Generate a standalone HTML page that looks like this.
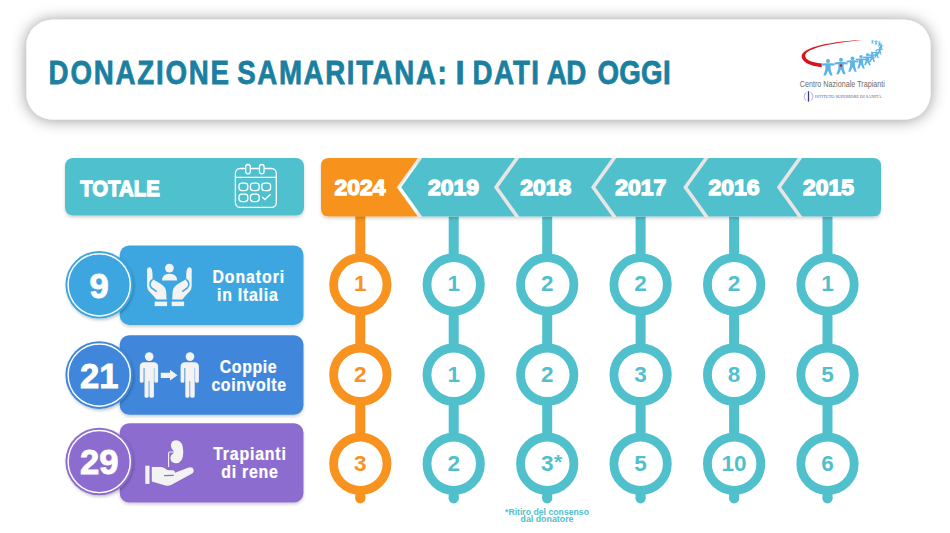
<!DOCTYPE html>
<html><head><meta charset="utf-8"><style>
html,body{margin:0;padding:0;background:#fff;}
body{width:950px;height:533px;overflow:hidden;position:relative;font-family:"Liberation Sans",sans-serif;}
svg{position:absolute;left:0;top:0;}
svg text{font-family:"Liberation Sans",sans-serif;}
</style></head><body>
<svg width="950" height="533" viewBox="0 0 950 533">
<defs>
<filter id="sh1" x="-10%" y="-40%" width="120%" height="180%"><feDropShadow dx="0" dy="0.5" stdDeviation="7.5" flood-color="#000" flood-opacity="0.42"/></filter>
<filter id="sh2" x="-20%" y="-30%" width="140%" height="160%"><feDropShadow dx="0" dy="2" stdDeviation="1.5" flood-color="#000" flood-opacity="0.18"/></filter>
<filter id="sh3" x="-30%" y="-30%" width="160%" height="160%"><feDropShadow dx="1" dy="1.5" stdDeviation="1.6" flood-color="#000" flood-opacity="0.25"/></filter>
</defs>
<rect x="26.5" y="19.7" width="904" height="99.9" rx="26" fill="#fff" filter="url(#sh1)"/>
<text transform="scale(0.84,1)" x="57.86" y="83.7" font-size="33" font-weight="700" fill="#1a7fa0" stroke="#1a7fa0" stroke-width="0.75" textLength="214.76" lengthAdjust="spacing">DONAZIONE</text>
<text transform="scale(0.84,1)" x="282.38" y="83.7" font-size="33" font-weight="700" fill="#1a7fa0" stroke="#1a7fa0" stroke-width="0.75" textLength="249.52" lengthAdjust="spacing">SAMARITANA:</text>
<text x="455.50" y="83.7" font-size="33" font-weight="700" fill="#1a7fa0" stroke="#1a7fa0" stroke-width="0.75">I</text>
<text transform="scale(0.84,1)" x="562.62" y="83.7" font-size="33" font-weight="700" fill="#1a7fa0" stroke="#1a7fa0" stroke-width="0.75" textLength="79.05" lengthAdjust="spacing">DATI</text>
<text transform="scale(0.84,1)" x="650.95" y="83.7" font-size="33" font-weight="700" fill="#1a7fa0" stroke="#1a7fa0" stroke-width="0.75" textLength="47.14" lengthAdjust="spacing">AD</text>
<text transform="scale(0.84,1)" x="711.19" y="83.7" font-size="33" font-weight="700" fill="#1a7fa0" stroke="#1a7fa0" stroke-width="0.75" textLength="87.14" lengthAdjust="spacing">OGGI</text>
<g transform="translate(795,34)"><path d="M26.8,33.2 C14,31.8 6.3,27.5 6.6,22 C7.3,13 36,7.2 73.5,5.4 C38,8.3 10.6,14 10.2,21.5 C10,25.2 15,28.3 26.8,29.4 Z" fill="#d7141e"/><g transform="translate(33,27) scale(1.0)" fill="#5ab4e5"><circle cx="0" cy="0" r="2"/><path d="M-6.5,2.6 L-2,2.2 L2,2.2 L6.5,2.6 L6.5,4.6 L2.6,4.4 L2.6,8.5 L4.6,14.5 L2.2,14.5 L0,9.5 L-2.2,14.5 L-4.6,14.5 L-2.6,8.5 L-2.6,4.4 L-6.5,4.6 Z"/></g><g transform="translate(46,25.8) scale(1.0)" fill="#5ab4e5"><circle cx="0" cy="0" r="2"/><path d="M-6.5,2.6 L-2,2.2 L2,2.2 L6.5,2.6 L6.5,4.6 L2.6,4.4 L2.6,8.5 L4.6,14.5 L2.2,14.5 L0,9.5 L-2.2,14.5 L-4.6,14.5 L-2.6,8.5 L-2.6,4.4 L-6.5,4.6 Z"/></g><g transform="translate(57.5,24.3) scale(0.92)" fill="#5ab4e5"><circle cx="0" cy="0" r="2"/><path d="M-6.5,2.6 L-2,2.2 L2,2.2 L6.5,2.6 L6.5,4.6 L2.6,4.4 L2.6,8.5 L4.6,14.5 L2.2,14.5 L0,9.5 L-2.2,14.5 L-4.6,14.5 L-2.6,8.5 L-2.6,4.4 L-6.5,4.6 Z"/></g><g transform="translate(66,22.6) scale(0.82)" fill="#5ab4e5"><circle cx="0" cy="0" r="2"/><path d="M-6.5,2.6 L-2,2.2 L2,2.2 L6.5,2.6 L6.5,4.6 L2.6,4.4 L2.6,8.5 L4.6,14.5 L2.2,14.5 L0,9.5 L-2.2,14.5 L-4.6,14.5 L-2.6,8.5 L-2.6,4.4 L-6.5,4.6 Z"/></g><g transform="translate(72.5,20.8) scale(0.72)" fill="#5ab4e5"><circle cx="0" cy="0" r="2"/><path d="M-6.5,2.6 L-2,2.2 L2,2.2 L6.5,2.6 L6.5,4.6 L2.6,4.4 L2.6,8.5 L4.6,14.5 L2.2,14.5 L0,9.5 L-2.2,14.5 L-4.6,14.5 L-2.6,8.5 L-2.6,4.4 L-6.5,4.6 Z"/></g><g transform="translate(77.2,19) scale(0.62)" fill="#5ab4e5"><circle cx="0" cy="0" r="2"/><path d="M-6.5,2.6 L-2,2.2 L2,2.2 L6.5,2.6 L6.5,4.6 L2.6,4.4 L2.6,8.5 L4.6,14.5 L2.2,14.5 L0,9.5 L-2.2,14.5 L-4.6,14.5 L-2.6,8.5 L-2.6,4.4 L-6.5,4.6 Z"/></g><g transform="translate(81.5,16.8) scale(0.52)" fill="#5ab4e5"><circle cx="0" cy="0" r="2"/><path d="M-6.5,2.6 L-2,2.2 L2,2.2 L6.5,2.6 L6.5,4.6 L2.6,4.4 L2.6,8.5 L4.6,14.5 L2.2,14.5 L0,9.5 L-2.2,14.5 L-4.6,14.5 L-2.6,8.5 L-2.6,4.4 L-6.5,4.6 Z"/></g><g transform="translate(84.6,14) scale(0.44)" fill="#5ab4e5"><circle cx="0" cy="0" r="2"/><path d="M-6.5,2.6 L-2,2.2 L2,2.2 L6.5,2.6 L6.5,4.6 L2.6,4.4 L2.6,8.5 L4.6,14.5 L2.2,14.5 L0,9.5 L-2.2,14.5 L-4.6,14.5 L-2.6,8.5 L-2.6,4.4 L-6.5,4.6 Z"/></g><g transform="translate(86,10.5) scale(0.38)" fill="#5ab4e5"><circle cx="0" cy="0" r="2"/><path d="M-6.5,2.6 L-2,2.2 L2,2.2 L6.5,2.6 L6.5,4.6 L2.6,4.4 L2.6,8.5 L4.6,14.5 L2.2,14.5 L0,9.5 L-2.2,14.5 L-4.6,14.5 L-2.6,8.5 L-2.6,4.4 L-6.5,4.6 Z"/></g><g transform="translate(84.5,7.8) scale(0.32)" fill="#5ab4e5"><circle cx="0" cy="0" r="2"/><path d="M-6.5,2.6 L-2,2.2 L2,2.2 L6.5,2.6 L6.5,4.6 L2.6,4.4 L2.6,8.5 L4.6,14.5 L2.2,14.5 L0,9.5 L-2.2,14.5 L-4.6,14.5 L-2.6,8.5 L-2.6,4.4 L-6.5,4.6 Z"/></g><g transform="translate(81,6.6) scale(0.28)" fill="#5ab4e5"><circle cx="0" cy="0" r="2"/><path d="M-6.5,2.6 L-2,2.2 L2,2.2 L6.5,2.6 L6.5,4.6 L2.6,4.4 L2.6,8.5 L4.6,14.5 L2.2,14.5 L0,9.5 L-2.2,14.5 L-4.6,14.5 L-2.6,8.5 L-2.6,4.4 L-6.5,4.6 Z"/></g><g transform="translate(77.5,6.2) scale(0.25)" fill="#5ab4e5"><circle cx="0" cy="0" r="2"/><path d="M-6.5,2.6 L-2,2.2 L2,2.2 L6.5,2.6 L6.5,4.6 L2.6,4.4 L2.6,8.5 L4.6,14.5 L2.2,14.5 L0,9.5 L-2.2,14.5 L-4.6,14.5 L-2.6,8.5 L-2.6,4.4 L-6.5,4.6 Z"/></g><circle cx="46" cy="31.5" r="1.2" fill="#d7141e"/></g>
<text x="799.8" y="87.2" font-size="9.9" fill="#6a6a6a" textLength="85" lengthAdjust="spacingAndGlyphs">Centro Nazionale Trapianti</text>
<g fill="none" stroke="#8a8ab5" stroke-width="0.7"><path d="M806.5,92.2 A4.6,5 0 0,0 806.5,100.8"/><path d="M810.5,92.2 A4.6,5 0 0,1 810.5,100.8"/></g><path d="M808.5,91.2 L808.5,101.6" stroke="#3a3a80" stroke-width="1.3"/>
<text x="815" y="98.4" font-size="5" font-family="Liberation Serif" fill="#5a5a90" textLength="66.5" lengthAdjust="spacingAndGlyphs" style="font-family:'Liberation Serif',serif">ISTITUTO SUPERIORE DI SANITÀ</text>
<rect x="65" y="158" width="239" height="57.5" rx="8" fill="#50c0cd" filter="url(#sh2)"/>
<text x="80.2" y="195.8" font-size="22" font-weight="700" fill="#fff" stroke="#fff" stroke-width="1.3" textLength="79.6" lengthAdjust="spacingAndGlyphs">TOTALE</text>
<g transform="translate(228,158)" fill="none" stroke="#fff" stroke-width="1.3"><rect x="7.4" y="10.5" width="40.9" height="38.9" rx="4.7"/><line x1="7.4" y1="19.4" x2="48.3" y2="19.4"/><rect x="17.7" y="6.5" width="4.6" height="9.3" rx="2.3" fill="#50c0cd"/><rect x="31.5" y="6.5" width="4.6" height="9.3" rx="2.3" fill="#50c0cd"/><rect x="11" y="25.2" width="8.8" height="7.4" rx="2.8"/><rect x="22.4" y="25.2" width="8.8" height="7.4" rx="2.8"/><rect x="33.8" y="25.2" width="8.8" height="7.4" rx="2.8"/><rect x="11" y="36.2" width="8.8" height="7.4" rx="2.8"/><rect x="22.4" y="36.2" width="8.8" height="7.4" rx="2.8"/><polyline points="34.1,38.9 36.8,41.5 42.6,36.2"/></g>
<rect x="355.3" y="205" width="10" height="294" fill="#f7931e"/>
<circle cx="360.3" cy="498.5" r="5" fill="#f7931e"/>
<rect x="448.7" y="205" width="10" height="294" fill="#50c0cd"/>
<circle cx="453.7" cy="498.5" r="5" fill="#50c0cd"/>
<rect x="542.2" y="205" width="10" height="294" fill="#50c0cd"/>
<circle cx="547.2" cy="498.5" r="5" fill="#50c0cd"/>
<rect x="635.6" y="205" width="10" height="294" fill="#50c0cd"/>
<circle cx="640.6" cy="498.5" r="5" fill="#50c0cd"/>
<rect x="729.1" y="205" width="10" height="294" fill="#50c0cd"/>
<circle cx="734.1" cy="498.5" r="5" fill="#50c0cd"/>
<rect x="822.5" y="205" width="10" height="294" fill="#50c0cd"/>
<circle cx="827.5" cy="498.5" r="5" fill="#50c0cd"/>
<path d="M417.8,158 L873,158 Q881,158 881,166 L881,208.5 Q881,216.5 873,216.5 L417.8,216.5 Z" fill="#e9e5e5" filter="url(#sh2)"/>
<path d="M329,158 L417.8,158 L396.8,187.3 L417.8,216.5 L329,216.5 Q321,216.5 321,208.5 L321,166 Q321,158 329,158 Z" fill="#f7931e" filter="url(#sh2)"/>
<path d="M422.2,158 L514.9000000000001,158 L493.90000000000003,187.3 L514.9000000000001,216.5 L422.2,216.5 L401.2,187.3 Z" fill="#50c0cd"/>
<path d="M519.3,158 L612.0,158 L591.0,187.3 L612.0,216.5 L519.3,216.5 L498.3,187.3 Z" fill="#50c0cd"/>
<path d="M616.4,158 L704.2,158 L683.2,187.3 L704.2,216.5 L616.4,216.5 L595.4,187.3 Z" fill="#50c0cd"/>
<path d="M708.6,158 L797.8000000000001,158 L776.8000000000001,187.3 L797.8000000000001,216.5 L708.6,216.5 L687.6,187.3 Z" fill="#50c0cd"/>
<path d="M802.2,158 L873,158 Q881,158 881,166 L881,208.5 Q881,216.5 873,216.5 L802.2,216.5 L781.2,187.3 Z" fill="#50c0cd"/>
<text x="360" y="195.3" font-size="21.6" font-weight="700" fill="#fff" stroke="#fff" stroke-width="1.3" text-anchor="middle" textLength="51" lengthAdjust="spacingAndGlyphs">2024</text>
<text x="453.5" y="195.3" font-size="21.6" font-weight="700" fill="#fff" stroke="#fff" stroke-width="1.3" text-anchor="middle" textLength="51" lengthAdjust="spacingAndGlyphs">2019</text>
<text x="545.7" y="195.3" font-size="21.6" font-weight="700" fill="#fff" stroke="#fff" stroke-width="1.3" text-anchor="middle" textLength="51" lengthAdjust="spacingAndGlyphs">2018</text>
<text x="640.7" y="195.3" font-size="21.6" font-weight="700" fill="#fff" stroke="#fff" stroke-width="1.3" text-anchor="middle" textLength="51" lengthAdjust="spacingAndGlyphs">2017</text>
<text x="733.9" y="195.3" font-size="21.6" font-weight="700" fill="#fff" stroke="#fff" stroke-width="1.3" text-anchor="middle" textLength="51" lengthAdjust="spacingAndGlyphs">2016</text>
<text x="828.5" y="195.3" font-size="21.6" font-weight="700" fill="#fff" stroke="#fff" stroke-width="1.3" text-anchor="middle" textLength="51" lengthAdjust="spacingAndGlyphs">2015</text>
<circle cx="360.3" cy="284.4" r="26.7" fill="#fff" stroke="#f7931e" stroke-width="8.8"/>
<text x="360.3" y="291.2" font-size="22.5" font-weight="700" fill="#f7931e" text-anchor="middle">1</text>
<circle cx="453.7" cy="284.4" r="26.7" fill="#fff" stroke="#50c0cd" stroke-width="8.8"/>
<text x="453.7" y="291.2" font-size="22.5" font-weight="700" fill="#50c0cd" text-anchor="middle">1</text>
<circle cx="547.2" cy="284.4" r="26.7" fill="#fff" stroke="#50c0cd" stroke-width="8.8"/>
<text x="547.2" y="291.2" font-size="22.5" font-weight="700" fill="#50c0cd" text-anchor="middle">2</text>
<circle cx="640.6" cy="284.4" r="26.7" fill="#fff" stroke="#50c0cd" stroke-width="8.8"/>
<text x="640.6" y="291.2" font-size="22.5" font-weight="700" fill="#50c0cd" text-anchor="middle">2</text>
<circle cx="734.1" cy="284.4" r="26.7" fill="#fff" stroke="#50c0cd" stroke-width="8.8"/>
<text x="734.1" y="291.2" font-size="22.5" font-weight="700" fill="#50c0cd" text-anchor="middle">2</text>
<circle cx="827.5" cy="284.4" r="26.7" fill="#fff" stroke="#50c0cd" stroke-width="8.8"/>
<text x="827.5" y="291.2" font-size="22.5" font-weight="700" fill="#50c0cd" text-anchor="middle">1</text>
<circle cx="360.3" cy="374.7" r="26.7" fill="#fff" stroke="#f7931e" stroke-width="8.8"/>
<text x="360.3" y="381.5" font-size="22.5" font-weight="700" fill="#f7931e" text-anchor="middle">2</text>
<circle cx="453.7" cy="374.7" r="26.7" fill="#fff" stroke="#50c0cd" stroke-width="8.8"/>
<text x="453.7" y="381.5" font-size="22.5" font-weight="700" fill="#50c0cd" text-anchor="middle">1</text>
<circle cx="547.2" cy="374.7" r="26.7" fill="#fff" stroke="#50c0cd" stroke-width="8.8"/>
<text x="547.2" y="381.5" font-size="22.5" font-weight="700" fill="#50c0cd" text-anchor="middle">2</text>
<circle cx="640.6" cy="374.7" r="26.7" fill="#fff" stroke="#50c0cd" stroke-width="8.8"/>
<text x="640.6" y="381.5" font-size="22.5" font-weight="700" fill="#50c0cd" text-anchor="middle">3</text>
<circle cx="734.1" cy="374.7" r="26.7" fill="#fff" stroke="#50c0cd" stroke-width="8.8"/>
<text x="734.1" y="381.5" font-size="22.5" font-weight="700" fill="#50c0cd" text-anchor="middle">8</text>
<circle cx="827.5" cy="374.7" r="26.7" fill="#fff" stroke="#50c0cd" stroke-width="8.8"/>
<text x="827.5" y="381.5" font-size="22.5" font-weight="700" fill="#50c0cd" text-anchor="middle">5</text>
<circle cx="360.3" cy="463.8" r="26.7" fill="#fff" stroke="#f7931e" stroke-width="8.8"/>
<text x="360.3" y="470.6" font-size="22.5" font-weight="700" fill="#f7931e" text-anchor="middle">3</text>
<circle cx="453.7" cy="463.8" r="26.7" fill="#fff" stroke="#50c0cd" stroke-width="8.8"/>
<text x="453.7" y="470.6" font-size="22.5" font-weight="700" fill="#50c0cd" text-anchor="middle">2</text>
<circle cx="547.2" cy="463.8" r="26.7" fill="#fff" stroke="#50c0cd" stroke-width="8.8"/>
<text x="547.2" y="470.6" font-size="22.5" font-weight="700" fill="#50c0cd" text-anchor="middle">3</text>
<text x="553.9000000000001" y="468.8" font-size="21" font-weight="700" fill="#50c0cd">*</text>
<circle cx="640.6" cy="463.8" r="26.7" fill="#fff" stroke="#50c0cd" stroke-width="8.8"/>
<text x="640.6" y="470.6" font-size="22.5" font-weight="700" fill="#50c0cd" text-anchor="middle">5</text>
<circle cx="734.1" cy="463.8" r="26.7" fill="#fff" stroke="#50c0cd" stroke-width="8.8"/>
<text x="734.1" y="470.6" font-size="22.5" font-weight="700" fill="#50c0cd" text-anchor="middle">10</text>
<circle cx="827.5" cy="463.8" r="26.7" fill="#fff" stroke="#50c0cd" stroke-width="8.8"/>
<text x="827.5" y="470.6" font-size="22.5" font-weight="700" fill="#50c0cd" text-anchor="middle">6</text>
<rect x="119.7" y="245.5" width="183.8" height="79.4" rx="9.5" fill="#3ea6e1" filter="url(#sh2)"/>
<circle cx="99.2" cy="284.8" r="33.8" fill="#3ea6e1" filter="url(#sh3)"/>
<circle cx="99.2" cy="284.8" r="31.1" fill="none" stroke="#fff" stroke-width="1.45"/>
<text x="99.2" y="297.5" font-size="34.6" font-weight="700" fill="#fff" stroke="#fff" stroke-width="0.9" text-anchor="middle">9</text>
<rect x="119.7" y="335.3" width="183.8" height="79.4" rx="9.5" fill="#3f87db" filter="url(#sh2)"/>
<circle cx="99.2" cy="375.1" r="33.8" fill="#3f87db" filter="url(#sh3)"/>
<circle cx="99.2" cy="375.1" r="31.1" fill="none" stroke="#fff" stroke-width="1.45"/>
<text x="99.2" y="387.8" font-size="34.6" font-weight="700" fill="#fff" stroke="#fff" stroke-width="0.9" text-anchor="middle">21</text>
<rect x="119.7" y="423.2" width="183.8" height="79.4" rx="9.5" fill="#8d6ccf" filter="url(#sh2)"/>
<circle cx="99.2" cy="461.5" r="33.8" fill="#8d6ccf" filter="url(#sh3)"/>
<circle cx="99.2" cy="461.5" r="31.1" fill="none" stroke="#fff" stroke-width="1.45"/>
<text x="99.2" y="474.2" font-size="34.6" font-weight="700" fill="#fff" stroke="#fff" stroke-width="0.9" text-anchor="middle">29</text>
<text transform="scale(0.88,1)" x="241.36" y="282.8" font-size="18" font-weight="700" fill="#fff" stroke="#fff" stroke-width="0.25" textLength="81.59" lengthAdjust="spacing">Donatori</text>
<text transform="scale(0.88,1)" x="246.59" y="301" font-size="18" font-weight="700" fill="#fff" stroke="#fff" stroke-width="0.25" textLength="69.09" lengthAdjust="spacing">in Italia</text>
<text transform="scale(0.88,1)" x="249.77" y="372.6" font-size="18" font-weight="700" fill="#fff" stroke="#fff" stroke-width="0.25" textLength="64.55" lengthAdjust="spacing">Coppie</text>
<text transform="scale(0.88,1)" x="240.23" y="391.2" font-size="18" font-weight="700" fill="#fff" stroke="#fff" stroke-width="0.25" textLength="84.77" lengthAdjust="spacing">coinvolte</text>
<text transform="scale(0.88,1)" x="242.27" y="460.4" font-size="18" font-weight="700" fill="#fff" stroke="#fff" stroke-width="0.25" textLength="82.50" lengthAdjust="spacing">Trapianti</text>
<text transform="scale(0.88,1)" x="251.36" y="477.9" font-size="18" font-weight="700" fill="#fff" stroke="#fff" stroke-width="0.25" textLength="64.32" lengthAdjust="spacing">di rene</text>
<g fill="#f3f3f3"><g transform="translate(144,264)"><path d="M3.1,6 Q3.1,3.3 5.6,3.3 Q8.3,3.6 8.5,10 L8.6,15 Q9.5,15.8 10.5,16.2 L16.5,19.8 Q22,23 22.2,28.5 L22.6,35.5 L12.4,35.5 Q10,32 5,27.2 Q3.1,25 3.1,22 Z"/><path d="M8.9,15.2 C5.8,17.5 5,21 7.2,23.6 L12.6,27.6" fill="none" stroke="#3ea6e1" stroke-width="1.5"/><rect x="10.7" y="37.6" width="12.4" height="4.5"/></g><g transform="translate(194.8,264) scale(-1,1)"><path d="M3.1,6 Q3.1,3.3 5.6,3.3 Q8.3,3.6 8.5,10 L8.6,15 Q9.5,15.8 10.5,16.2 L16.5,19.8 Q22,23 22.2,28.5 L22.6,35.5 L12.4,35.5 Q10,32 5,27.2 Q3.1,25 3.1,22 Z"/><path d="M8.9,15.2 C5.8,17.5 5,21 7.2,23.6 L12.6,27.6" fill="none" stroke="#3ea6e1" stroke-width="1.5"/><rect x="10.7" y="37.6" width="12.4" height="4.5"/></g><circle cx="169.4" cy="268.1" r="4.4"/><path d="M162.1,280.5 Q162.1,273.7 169.5,273.7 Q177,273.7 177,280.5 Z"/></g>
<g fill="#f3f3f3"><g transform="translate(137,350)"><circle cx="12.2" cy="6.6" r="4.3"/><path d="M2.8,16.7 Q2.8,12.2 7.3,12.2 L16.6,12.2 Q21.1,12.2 21.1,16.7 L21.1,31.2 Q21.1,32.8 19.2,32.8 Q17.3,32.8 17.3,31.2 L17.3,18 L16.9,18 L16.9,46.2 Q16.9,47.8 14.6,47.8 Q12.4,47.8 12.4,46.2 L12.4,31 L11.7,31 L11.7,46.2 Q11.7,47.8 9.6,47.8 Q7.5,47.8 7.5,46.2 L7.5,18 L6.6,18 L6.6,31.2 Q6.6,32.8 4.7,32.8 Q2.8,32.8 2.8,31.2 Z"/></g><g transform="translate(177.8,350)"><circle cx="12.2" cy="6.6" r="4.3"/><path d="M2.8,16.7 Q2.8,12.2 7.3,12.2 L16.6,12.2 Q21.1,12.2 21.1,16.7 L21.1,31.2 Q21.1,32.8 19.2,32.8 Q17.3,32.8 17.3,31.2 L17.3,18 L16.9,18 L16.9,46.2 Q16.9,47.8 14.6,47.8 Q12.4,47.8 12.4,46.2 L12.4,31 L11.7,31 L11.7,46.2 Q11.7,47.8 9.6,47.8 Q7.5,47.8 7.5,46.2 L7.5,18 L6.6,18 L6.6,31.2 Q6.6,32.8 4.7,32.8 Q2.8,32.8 2.8,31.2 Z"/></g><path d="M160.8,372.8 L170,372.8 L170,369.8 L177.5,375.2 L170,380.4 L170,377.9 L160.8,377.9 Z"/></g>
<g fill="#f3f3f3" transform="translate(142,438)"><rect x="3.3" y="27.7" width="4.2" height="18.2"/><path d="M9.8,29 L19.7,29 Q22.5,29.5 24.5,31.5 Q25.5,32.3 27,32.3 L31,32.3 Q33,32.5 33,34.7 L46,29.8 Q50.5,28.3 51.6,31.5 Q52.3,34.3 49.7,35.8 L30,46.5 Q27,48 23.5,47.6 L9.8,43.6 Z"/><path d="M22,37.7 L31.8,37.4" stroke="#8d6ccf" stroke-width="1.2" fill="none"/><path d="M34.7,2.3 Q41.2,3 41.3,14 Q41.2,25.3 33.8,25.3 Q28.4,25 28.4,19.6 Q28.6,17 31.2,15.6 Q32.6,14 31.2,12.2 Q28.8,10.5 29,6.5 Q29.6,2.3 34.7,2.3 Z"/><path d="M32,14 L28,14 Q26.6,14 26.6,15.5 L26.6,29" fill="none" stroke="#f3f3f3" stroke-width="1.1"/></g>
<text x="547" y="514.6" font-size="8.8" font-weight="700" fill="#50c0cd" text-anchor="middle" textLength="84" lengthAdjust="spacingAndGlyphs">*Ritiro del consenso</text>
<text x="547" y="522.2" font-size="8.8" font-weight="700" fill="#50c0cd" text-anchor="middle" textLength="53" lengthAdjust="spacingAndGlyphs">dal donatore</text>
</svg>
</body></html>
